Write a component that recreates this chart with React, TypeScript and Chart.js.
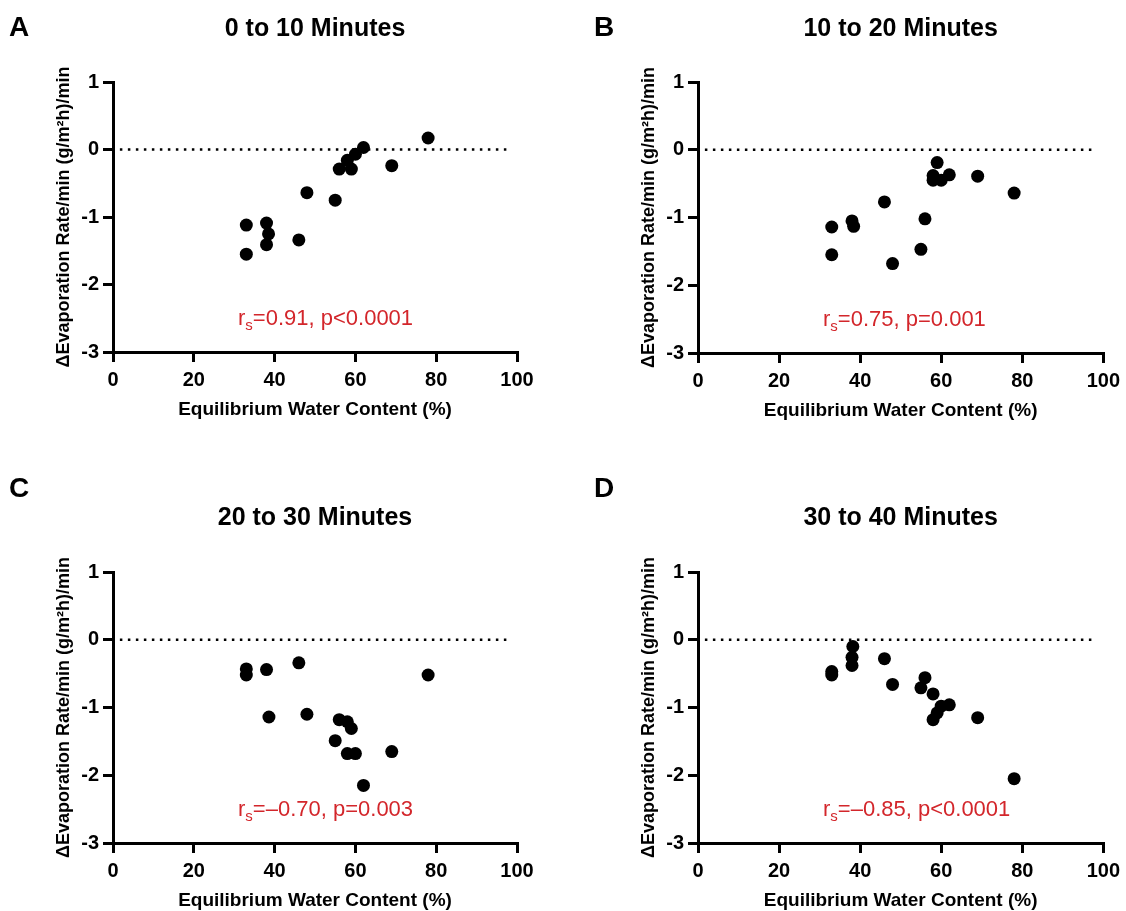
import React, { useEffect, useRef } from "react";
import { Chart, registerables } from "chart.js";

Chart.register(...registerables);

const FONT = '"Liberation Sans", Arial, Helvetica, sans-serif';

// ---- data ----
const xTickValues = [0, 20, 40, 60, 80, 100];
const yTickValues = [1, 0, -1, -2, -3];

const panelLetters = ["A", "B", "C", "D"];
const panelTitles = ["0 to 10 Minutes", "10 to 20 Minutes", "20 to 30 Minutes", "30 to 40 Minutes"];
const statR = ["0.91", "0.75", "\u20130.70", "\u20130.85"];
const statP = ["p<0.0001", "p=0.001", "p=0.003", "p<0.0001"];

const xAxisTitle = "Equilibrium Water Content (%)";
const yAxisTitle = "\u0394Evaporation Rate/min (g/m\u00B2h)/min";

const refLineX = [1.7, 98.3];
const refLineY = 0;

const ewcA = [78, 62, 60, 58, 56, 59, 69, 48, 55, 33, 33, 38, 38.5, 38, 46];
const deltaA = [0.17, 0.03, -0.07, -0.16, -0.29, -0.29, -0.24, -0.64, -0.75, -1.12, -1.55, -1.09, -1.25, -1.41, -1.34];

const ewcB = [59, 58, 58, 60, 62, 69, 78, 46, 56, 55, 48, 33, 33, 38, 38.4];
const deltaB = [-0.19, -0.38, -0.45, -0.45, -0.37, -0.39, -0.64, -0.77, -1.02, -1.47, -1.68, -1.14, -1.55, -1.05, -1.13];

const ewcC = [33, 33, 38, 46, 78, 38.6, 48, 56, 58, 59, 55, 58, 60, 69, 62];
const deltaC = [-0.43, -0.52, -0.44, -0.34, -0.52, -1.14, -1.1, -1.18, -1.21, -1.31, -1.49, -1.68, -1.68, -1.65, -2.15];

const ewcD = [38.2, 38, 38, 33, 33, 46, 48, 56, 55, 58, 62, 60, 59, 58, 69, 78];
const deltaD = [-0.1, -0.26, -0.38, -0.47, -0.52, -0.28, -0.66, -0.56, -0.71, -0.8, -0.96, -0.98, -1.08, -1.18, -1.15, -2.05];

const seriesX = [ewcA, ewcB, ewcC, ewcD];
const seriesY = [deltaA, deltaB, deltaC, deltaD];

// ---- layout (pixel geometry of each panel, relative to its canvas) ----
type Layout = {
  left: number; top: number; w: number; h: number;
  areaLeft: number; areaTop: number; areaRight: number; areaBottom: number;
  letterX: number; letterY: number; titleY: number;
  statX: number; statY: number; yTitleX: number;
};

const layouts: Layout[] = [
  { left: 0, top: 0, w: 563, h: 455, areaLeft: 113, areaTop: 82, areaRight: 517, areaBottom: 352, letterX: 9, letterY: 28, titleY: 29, statX: 238, statY: 325, yTitleX: 64 },
  { left: 563, top: 0, w: 563, h: 455, areaLeft: 135, areaTop: 82, areaRight: 541, areaBottom: 353, letterX: 31, letterY: 28, titleY: 29, statX: 260, statY: 326, yTitleX: 86 },
  { left: 0, top: 455, w: 563, h: 470, areaLeft: 113, areaTop: 117, areaRight: 517, areaBottom: 388, letterX: 9, letterY: 34, titleY: 63, statX: 238, statY: 361, yTitleX: 64 },
  { left: 563, top: 455, w: 563, h: 470, areaLeft: 135, areaTop: 117, areaRight: 541, areaBottom: 388, letterX: 31, letterY: 34, titleY: 63, statX: 260, statY: 361, yTitleX: 86 },
];

const RED = "#d3262b";

function Panel({ idx }: { idx: number }) {
  const ref = useRef<HTMLCanvasElement | null>(null);
  const L = layouts[idx];

  useEffect(() => {
    const canvas = ref.current!;
    const xs = seriesX[idx];
    const ys = seriesY[idx];
    const pts = xs.map((x, i) => ({ x, y: ys[i] }));
    const refPts = refLineX.map((x) => ({ x, y: refLineY }));

    const xTitleFont = 19;
    const xTitleCenterOffset = 58; // distance from axis to title centre
    const xScaleHeight = L.h - L.areaBottom;
    const xTitlePadBottom = xScaleHeight - xTitleCenterOffset - (xTitleFont * 1.2) / 2;
    const yTitleFont = 18;

    const textPlugin = {
      id: "panelText" + idx,
      afterDraw(chart: any) {
        const ctx = chart.ctx as CanvasRenderingContext2D;
        const area = chart.chartArea;
        ctx.save();
        ctx.fillStyle = "#000";
        ctx.textBaseline = "middle";
        // panel letter
        ctx.font = `bold 28px ${FONT}`;
        ctx.textAlign = "left";
        ctx.fillText(panelLetters[idx], L.letterX, L.letterY);
        // title
        ctx.font = `bold 25px ${FONT}`;
        ctx.textAlign = "center";
        ctx.fillText(panelTitles[idx], (area.left + area.right) / 2, L.titleY);
        // statistics
        ctx.fillStyle = RED;
        ctx.textAlign = "left";
        ctx.textBaseline = "alphabetic";
        let x = L.statX;
        ctx.font = `22px ${FONT}`;
        ctx.fillText("r", x, L.statY);
        x += ctx.measureText("r").width;
        ctx.font = `15px ${FONT}`;
        ctx.fillText("s", x, L.statY + 5);
        x += ctx.measureText("s").width;
        ctx.font = `22px ${FONT}`;
        ctx.fillText(`=${statR[idx]}, ${statP[idx]}`, x, L.statY);
        ctx.restore();
      },
    };

    const chart = new Chart(canvas, {
      type: "scatter",
      data: {
        datasets: [
          {
            type: "scatter",
            data: pts,
            backgroundColor: "#000",
            borderColor: "#000",
            pointRadius: 6.5,
            pointHoverRadius: 6.5,
            borderWidth: 0,
            order: 1,
          } as any,
          {
            type: "line",
            data: refPts,
            borderColor: "#000",
            borderWidth: 2.5,
            borderDash: [2.5, 5.5],
            pointRadius: 0,
            fill: false,
            order: 2,
          } as any,
        ],
      },
      options: {
        animation: false,
        responsive: false,
        devicePixelRatio: 1,
        events: [],
        layout: {
          padding: { left: 0, top: L.areaTop, right: L.w - L.areaRight, bottom: 0 },
        },
        plugins: {
          legend: { display: false },
          title: { display: false },
          tooltip: { enabled: false },
        },
        scales: {
          x: {
            type: "linear",
            min: 0,
            max: 100,
            afterBuildTicks: (s: any) => {
              s.ticks = xTickValues.map((v) => ({ value: v }));
            },
            ticks: {
              color: "#000",
              font: { family: FONT, size: 20, weight: "bold" },
              padding: 6,
              maxRotation: 0,
              autoSkip: false,
            },
            grid: {
              display: true,
              drawOnChartArea: false,
              drawTicks: true,
              tickLength: 10,
              tickWidth: 3,
              tickColor: "#000",
              lineWidth: 3,
              color: "#000",
            },
            border: { display: true, color: "#000", width: 3 },
            title: {
              display: true,
              text: xAxisTitle,
              color: "#000",
              font: { family: FONT, size: xTitleFont, weight: "bold" },
              padding: { top: 0, bottom: xTitlePadBottom },
            },
            afterFit: (s: any) => {
              s.height = xScaleHeight;
            },
          },
          y: {
            type: "linear",
            min: -3,
            max: 1,
            afterBuildTicks: (s: any) => {
              s.ticks = yTickValues.slice().reverse().map((v) => ({ value: v }));
            },
            ticks: {
              color: "#000",
              font: { family: FONT, size: 20, weight: "bold" },
              padding: 4,
              autoSkip: false,
            },
            grid: {
              display: true,
              drawOnChartArea: false,
              drawTicks: true,
              tickLength: 10,
              tickWidth: 3,
              tickColor: "#000",
              lineWidth: 3,
              color: "#000",
            },
            border: { display: true, color: "#000", width: 3 },
            title: {
              display: true,
              text: yAxisTitle,
              color: "#000",
              font: { family: FONT, size: yTitleFont, weight: "bold" },
              padding: { top: L.yTitleX - (yTitleFont * 1.2) / 2, bottom: 0 },
            },
            afterFit: (s: any) => {
              s.width = L.areaLeft;
            },
          },
        },
      } as any,
      plugins: [textPlugin],
    });
    return () => chart.destroy();
  }, [idx]);

  return (
    <div style={{ position: "absolute", left: L.left, top: L.top, width: L.w, height: L.h }}>
      <canvas ref={ref} width={L.w} height={L.h} style={{ display: "block" }} />
    </div>
  );
}

export default function App() {
  return (
    <div
      style={{
        position: "absolute",
        left: 0,
        top: 0,
        width: 1126,
        height: 911,
        overflow: "hidden",
        background: "#fff",
      }}
    >
      {[0, 1, 2, 3].map((i) => (
        <Panel key={i} idx={i} />
      ))}
    </div>
  );
}
